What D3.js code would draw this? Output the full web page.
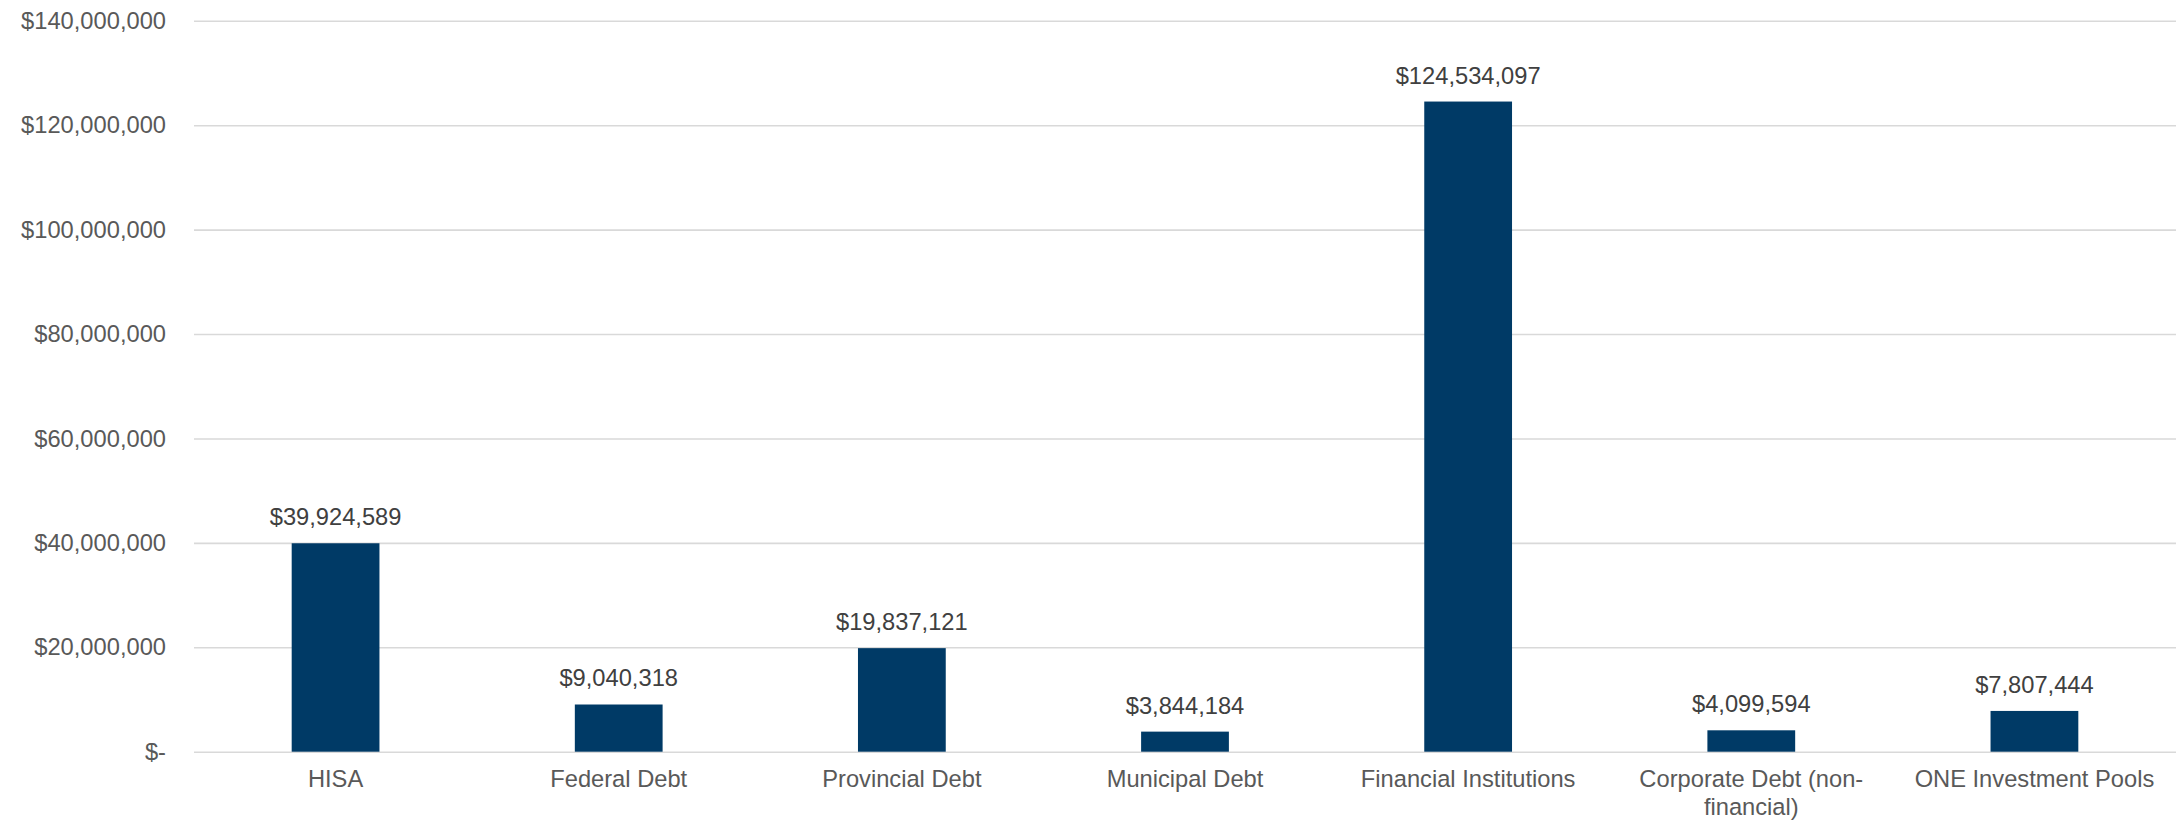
<!DOCTYPE html>
<html>
<head>
<meta charset="utf-8">
<script src="https://cdn.jsdelivr.net/npm/d3@7"></script>
<style>
  body { margin:0; background:#fff; }
  svg text { font-family: "Liberation Sans", Arial, sans-serif; }
</style>
</head>
<body>
<svg id="chart"></svg>
<script>
var categories = ["HISA","Federal Debt","Provincial Debt","Municipal Debt","Financial Institutions","Corporate Debt (non-financial)","ONE Investment Pools"]
var values = [39924589, 9040318, 19837121, 3844184, 124534097, 4099594, 7807444]
var yTicks = [0, 20000000, 40000000, 60000000, 80000000, 100000000, 120000000, 140000000]

var screen = {width:2176, height:820}
var margins = {top:20.8, right:0, bottom:68.3, left:194}

var svg = d3.select("#chart")
    .attr("width", screen.width)
    .attr("height", screen.height)

var width = screen.width - margins.left - margins.right
var height = screen.height - margins.top - margins.bottom

var xScale = d3.scaleBand()
    .domain(categories)
    .range([0, width])
    .paddingInner(0.69)
    .paddingOuter(0.345)

var yScale = d3.scaleLinear()
    .domain([0, 140000000])
    .range([height, 0])

var money = function(d){ return d === 0 ? "$-" : "$" + d3.format(",")(d) }

var graph = svg.append("g")
    .attr("transform", "translate(" + margins.left + "," + margins.top + ")")

// y axis with gridlines
var yAxis = d3.axisLeft(yScale)
    .tickValues(yTicks)
    .tickSize(-width)
    .tickPadding(28)
    .tickFormat(money)

var yG = graph.append("g").call(yAxis)
yG.select(".domain").remove()
yG.selectAll("line").attr("stroke", "#d9d9d9").attr("stroke-width", 1.6)
yG.selectAll("text").attr("fill", "#595959").attr("font-size", "23.7px")

// bars
graph.selectAll(".bar")
    .data(values)
    .enter()
    .append("rect")
    .attr("class", "bar")
    .attr("x", function(d, i){ return xScale(categories[i]) })
    .attr("width", xScale.bandwidth())
    .attr("y", function(d){ return yScale(d) })
    .attr("height", function(d){ return height - yScale(d) })
    .attr("fill", "#003a66")

// value labels
graph.selectAll(".val")
    .data(values)
    .enter()
    .append("text")
    .attr("class", "val")
    .attr("x", function(d, i){ return xScale(categories[i]) + xScale.bandwidth()/2 })
    .attr("y", function(d){ return yScale(d) - 18 })
    .attr("text-anchor", "middle")
    .attr("fill", "#404040")
    .attr("font-size", "23.7px")
    .text(money)

// x axis (labels only)
var xAxis = d3.axisBottom(xScale).tickSize(0).tickPadding(18)
var xG = graph.append("g")
    .attr("transform", "translate(0," + height + ")")
    .call(xAxis)
xG.select(".domain").remove()
xG.selectAll("text")
    .attr("fill", "#595959")
    .attr("font-size", "23.7px")
    .each(function(d){
        var t = d3.select(this)
        var maxW = xScale.step() * 0.85
        var words = d.split(/(?<=[ -])/)
        var lines = [], cur = ""
        t.text(null)
        var probe = t.append("tspan")
        words.forEach(function(w){
            probe.text((cur + w).trim())
            if (probe.node().getComputedTextLength() > maxW && cur !== "") {
                lines.push(cur.trim()); cur = w
            } else cur += w
        })
        lines.push(cur.trim())
        probe.remove()
        var y0 = +t.attr("y")
        lines.forEach(function(l, i){
            t.append("tspan").attr("x", 0).attr("y", y0).attr("dy", (0.71 + i*1.2) + "em").text(l)
        })
    })
</script>
</body>
</html>
